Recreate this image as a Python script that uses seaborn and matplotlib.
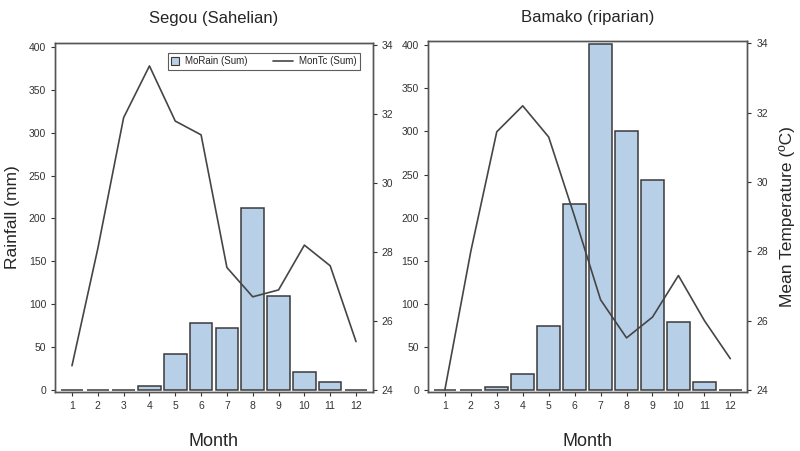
import matplotlib
matplotlib.use("Agg")
import matplotlib.pyplot as plt
from matplotlib.patches import Patch
from matplotlib.lines import Line2D
import seaborn as sns

months = list(range(1, 13))

# Segou (Sahelian)
segou_rain = [0, 0, 0, 4, 42, 78, 72, 212, 110, 21, 9, 0]
segou_temp = [24.7, 28.1, 31.9, 33.4, 31.8, 31.4, 27.55, 26.7, 26.9, 28.2, 27.6, 25.4]

# Bamako (riparian)
bamako_rain = [0, 0, 3, 18, 74, 216, 402, 300, 244, 79, 9, 0]
bamako_temp = [24.0, 28.0, 31.45, 32.2, 31.3, 29.0, 26.6, 25.5, 26.1, 27.3, 26.0, 24.9]

titles = ["Segou (Sahelian)", "Bamako (riparian)"]

sns.set_style("ticks")
plt.rcParams["font.family"] = ["Liberation Sans", "DejaVu Sans"]

bar_color = "#b8cfe8"
edge_color = "#3a3a3a"
line_color = "#454545"
spine_color = "#555555"


class LongLineHandler:
    # line handle longer than the square patch handle
    def legend_artist(self, legend, orig_handle, fontsize, handlebox):
        w, h = handlebox.width, handlebox.height
        line = Line2D([-1.6 * w, w], [h / 2, h / 2], color=line_color, linewidth=1.2)
        handlebox.add_artist(line)
        return line


fig = plt.figure(figsize=(8, 4.51), dpi=100)
ax_left = fig.add_axes([0.069, 0.131, 0.397, 0.774])
ax_right = fig.add_axes([0.535, 0.131, 0.399, 0.778])

for ax, rain, temp, title in [(ax_left, segou_rain, segou_temp, titles[0]),
                              (ax_right, bamako_rain, bamako_temp, titles[1])]:
    sns.barplot(x=months, y=rain, native_scale=True, width=0.87, color=bar_color,
                saturation=1, edgecolor=edge_color, linewidth=1.1, ax=ax)
    ax.set_xlim(0.35, 12.65)
    ax.set_ylim(-2.5, 405)
    ax.set_yticks(range(0, 401, 50))
    ax.set_xticks(months)
    ax.tick_params(labelsize=7.5, colors="#333333", length=3, width=0.8)

    ax2 = ax.twinx()
    sns.lineplot(x=months, y=temp, color=line_color, linewidth=1.2, ax=ax2)
    ax2.set_ylim(23.94, 34.07)
    ax2.set_yticks(range(24, 35, 2))
    ax2.tick_params(labelsize=7.5, colors="#333333", length=3, width=0.8)
    ax2.set_ylabel("")

    for a in (ax, ax2):
        for s in a.spines.values():
            s.set_color(spine_color)
            s.set_linewidth(1.0)

    ax.set_title(title, fontsize=12, pad=14)
    ax.set_xlabel("Month", fontsize=13, labelpad=16)
    if ax is ax_left:
        ax.set_ylabel("Rainfall (mm)", fontsize=12.5, labelpad=6)
        handles = [Patch(facecolor=bar_color, edgecolor=edge_color, linewidth=0.8),
                   Line2D([0], [0], color=line_color, linewidth=1.2)]
        leg = ax.legend(handles, ["MoRain (Sum)", "MonTc (Sum)"], ncol=2, loc="upper right",
                        bbox_to_anchor=(0.975, 0.985), fontsize=7, frameon=True, fancybox=False,
                        edgecolor="#333333", handlelength=0.8, handleheight=0.8,
                        columnspacing=3.9, borderpad=0.35, handletextpad=0.6,
                        handler_map={Line2D: LongLineHandler()})
        leg.get_frame().set_linewidth(0.8)
    else:
        ax2.set_ylabel("Mean Temperature (\u00baC)", fontsize=12.5, labelpad=8)

fig.savefig("out.png", dpi=100)
